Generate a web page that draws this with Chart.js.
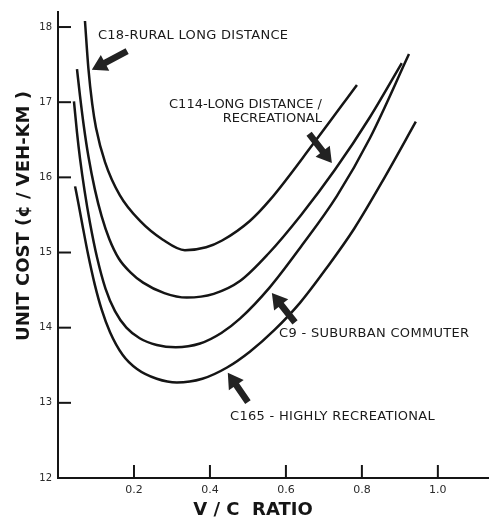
<!DOCTYPE html>
<html><head><meta charset="utf-8">
<script src="https://cdn.jsdelivr.net/npm/chart.js@4.4.1/dist/chart.umd.min.js"></script>
<style>html,body{margin:0;padding:0;background:#fff;}</style>
</head><body>
<canvas id="c" width="490" height="521"></canvas>
<script>
// ---- data ----
const vcC18   = [0.071,0.080,0.090,0.100,0.124,0.163,0.216,0.276,0.334,0.390,0.432,0.505,0.558,0.671,0.787];
const costC18 = [18.08,17.45,16.98,16.66,16.20,15.76,15.42,15.17,15.03,15.07,15.16,15.42,15.70,16.44,17.23];

const vcC114   = [0.050,0.058,0.068,0.080,0.097,0.115,0.135,0.160,0.190,0.224,0.280,0.339,0.410,0.479,0.553,0.640,0.729,0.821,0.905];
const costC114 = [17.44,17.08,16.68,16.28,15.84,15.48,15.18,14.92,14.74,14.60,14.46,14.40,14.45,14.62,14.98,15.50,16.10,16.80,17.52];

const vcC9   = [0.042,0.050,0.058,0.070,0.084,0.103,0.125,0.150,0.180,0.215,0.260,0.310,0.374,0.430,0.479,0.558,0.640,0.734,0.821,0.924];
const costC9 = [17.01,16.60,16.25,15.82,15.40,14.93,14.52,14.22,14.00,13.86,13.77,13.74,13.79,13.93,14.12,14.54,15.08,15.75,16.52,17.64];

const vcC165   = [0.045,0.055,0.066,0.079,0.097,0.115,0.137,0.170,0.208,0.260,0.313,0.380,0.445,0.505,0.570,0.637,0.708,0.780,0.860,0.942];
const costC165 = [15.88,15.62,15.32,14.98,14.57,14.24,13.94,13.64,13.45,13.32,13.27,13.32,13.47,13.68,13.97,14.33,14.80,15.32,16.00,16.74];

const xTickValues = [0.2,0.4,0.6,0.8,1.0];
const xTickLabels = ['0.2','0.4','0.6','0.8','1.0'];
const yTickValues = [12,13,14,15,16,17,18];
const yTickLabels = ['12','13','14','15','16','17','18'];

const xTitle = 'V / C  RATIO';
const yTitle = 'UNIT COST (¢ / VEH-KM )';

// annotation labels (text, anchor in data units, alignment)
const labelTexts = ['C18-RURAL LONG DISTANCE','C114-LONG DISTANCE /','RECREATIONAL','C9 - SUBURBAN COMMUTER','C165 - HIGHLY RECREATIONAL'];
const labelX     = [0.105, 0.695, 0.695, 0.582, 0.453];
const labelY     = [17.89, 16.97, 16.78, 13.92, 12.82];
const labelAlign = ['left','right','right','left','left'];

// arrows: tail -> tip, in data units
const arrowTailX = [0.182, 0.661, 0.624, 0.500];
const arrowTailY = [17.68, 16.58, 14.07, 13.01];
const arrowTipX  = [0.089, 0.721, 0.563, 0.447];
const arrowTipY  = [17.43, 16.19, 14.46, 13.40];

const INK = '#151515';

function series(xs, ys){ return xs.map((x,i)=>({x:x, y:ys[i]})); }
function ds(xs, ys){
  return { data: series(xs, ys), borderColor: INK, borderWidth: 2.5, pointRadius: 0,
           fill: false, cubicInterpolationMode: 'monotone' };
}

function drawArrow(ctx, x1, y1, x2, y2){
  const ang = Math.atan2(y2-y1, x2-x1);
  const len = Math.hypot(x2-x1, y2-y1);
  const headL = 15, headW = 9, shaft = 3.3;
  ctx.save();
  ctx.translate(x1, y1);
  ctx.rotate(ang);
  ctx.beginPath();
  ctx.moveTo(0, -shaft);
  ctx.lineTo(len-headL, -shaft);
  ctx.lineTo(len-headL, -headW);
  ctx.lineTo(len, 0);
  ctx.lineTo(len-headL, headW);
  ctx.lineTo(len-headL, shaft);
  ctx.lineTo(0, shaft);
  ctx.closePath();
  ctx.fillStyle = '#222';
  ctx.fill();
  ctx.restore();
}

const decor = {
  id: 'decor',
  afterDatasetsDraw(chart){
    const ctx = chart.ctx;
    const xs = chart.scales.x, ys = chart.scales.y;
    const ca = chart.chartArea;
    ctx.save();
    // inward tick marks
    ctx.strokeStyle = INK; ctx.lineWidth = 2;
    yTickValues.forEach(v => {
      if (v === ys.min) return;
      const py = ys.getPixelForValue(v);
      ctx.beginPath(); ctx.moveTo(ca.left, py); ctx.lineTo(ca.left + 13, py); ctx.stroke();
    });
    xTickValues.forEach(v => {
      const px = xs.getPixelForValue(v);
      ctx.beginPath(); ctx.moveTo(px, ca.bottom); ctx.lineTo(px, ca.bottom - 13); ctx.stroke();
    });
    // annotation labels
    ctx.fillStyle = '#1a1a1a';
    ctx.font = '13px "DejaVu Sans"';
    ctx.textBaseline = 'middle';
    labelTexts.forEach((t,i) => {
      ctx.letterSpacing = (i === 1 || i === 2) ? '0px' : '0.3px';
      ctx.textAlign = labelAlign[i];
      ctx.fillText(t, xs.getPixelForValue(labelX[i]), ys.getPixelForValue(labelY[i]));
    });
    ctx.letterSpacing = '0px';
    // arrows
    arrowTailX.forEach((tx,i) => {
      drawArrow(ctx, xs.getPixelForValue(tx), ys.getPixelForValue(arrowTailY[i]),
                     xs.getPixelForValue(arrowTipX[i]), ys.getPixelForValue(arrowTipY[i]));
    });
    // axis titles
    ctx.fillStyle = '#151515';
    ctx.font = 'bold 18px "DejaVu Sans"';
    ctx.textAlign = 'center';
    ctx.textBaseline = 'middle';
    ctx.fillText(xTitle, 253, 510);
    ctx.translate(24, 216);
    ctx.rotate(-Math.PI/2);
    ctx.fillText(yTitle, 0, 0);
    ctx.restore();
  }
};

new Chart(document.getElementById('c'), {
  type: 'line',
  data: { datasets: [ ds(vcC18, costC18), ds(vcC114, costC114), ds(vcC9, costC9), ds(vcC165, costC165) ] },
  options: {
    responsive: false,
    devicePixelRatio: 1,
    animation: false,
    layout: { padding: { left: 0, top: 10, right: 2, bottom: 0 } },
    plugins: { legend: { display: false }, tooltip: { enabled: false } },
    scales: {
      x: {
        type: 'linear', min: 0, max: 1.132,
        afterBuildTicks(s){ s.ticks = xTickValues.map(v => ({value: v})); },
        afterFit(s){ s.height = 43; },
        grid: { display: true, drawOnChartArea: false, drawTicks: false },
        border: { display: true, color: INK, width: 2 },
        ticks: { padding: 6, color: '#2a2a2a', font: { family: 'DejaVu Sans', size: 11 },
                 callback: (v) => xTickLabels[xTickValues.indexOf(v)] },
        title: { display: false }
      },
      y: {
        type: 'linear', min: 12, max: 18.2,
        afterBuildTicks(s){ s.ticks = yTickValues.map(v => ({value: v})); },
        afterFit(s){ s.width = 58; },
        grid: { display: true, drawOnChartArea: false, drawTicks: false },
        border: { display: true, color: INK, width: 2 },
        ticks: { padding: 6, color: '#2a2a2a', font: { family: 'DejaVu Sans', size: 10 },
                 callback: (v) => yTickLabels[yTickValues.indexOf(v)] },
        title: { display: false }
      }
    }
  },
  plugins: [decor]
});
</script>
</body></html>
